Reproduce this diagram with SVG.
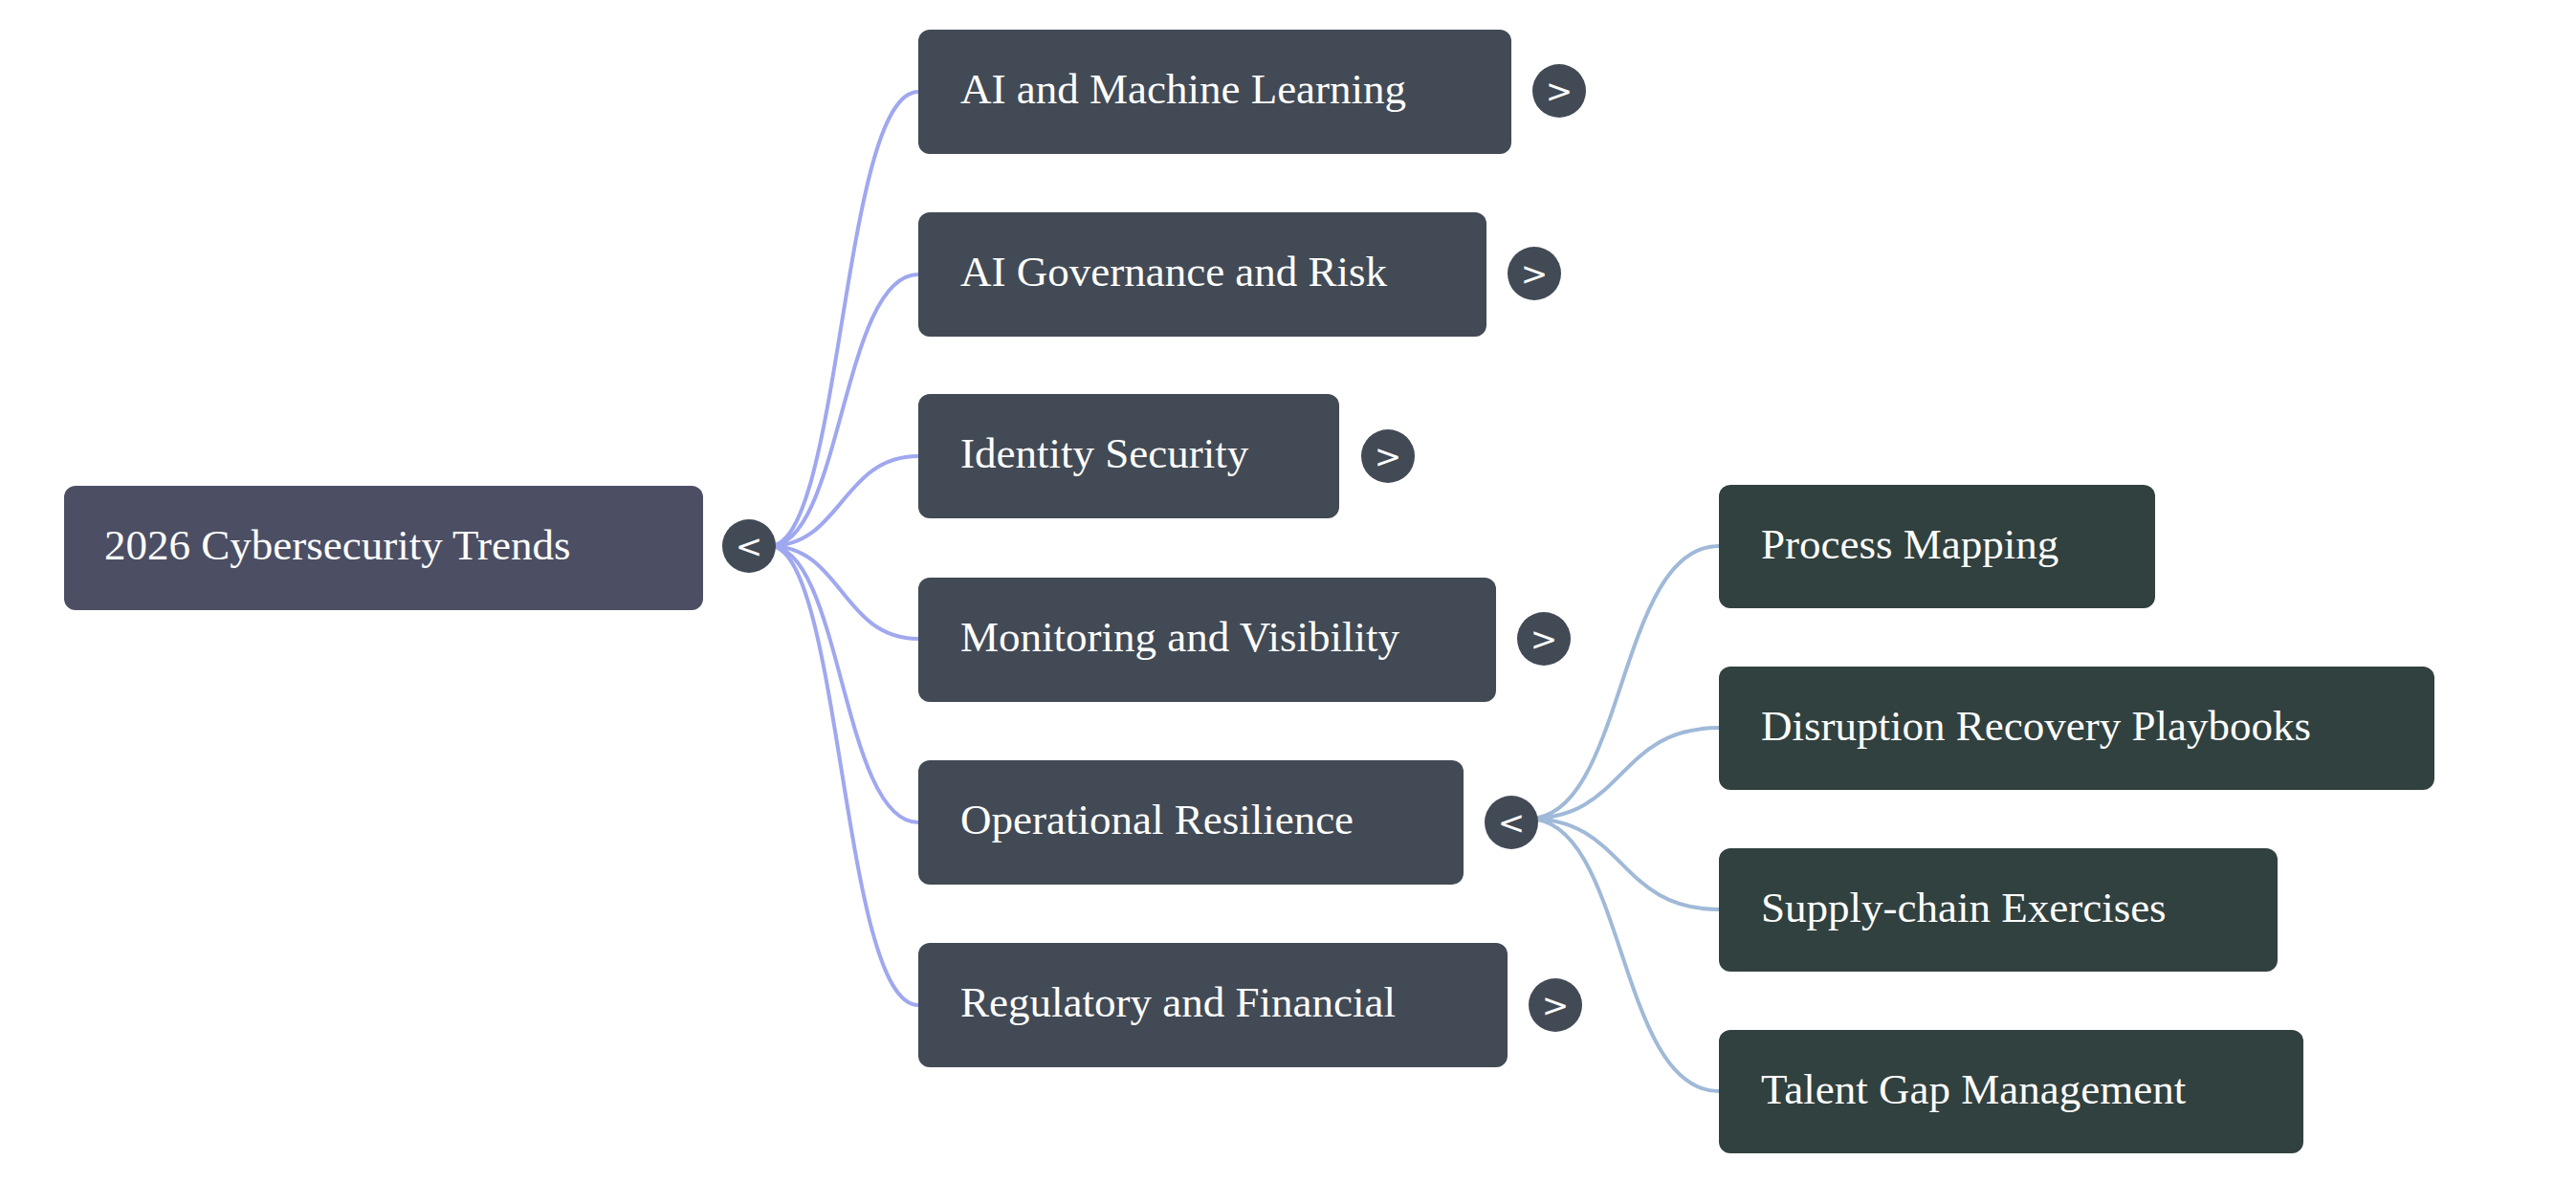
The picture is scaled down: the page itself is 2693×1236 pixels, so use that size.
<svg xmlns="http://www.w3.org/2000/svg" width="2693" height="1236" viewBox="0 0 2693 1236">
<style>
.t{font-family:"Liberation Serif","Times New Roman",serif;font-size:45px;fill:#ffffff}
.g{font-family:"DejaVu Sans",sans-serif;font-size:34px;fill:#ffffff;text-anchor:middle}
.root{fill:#4c4f64}
.c{fill:#424a55}
.gc{fill:#31413f}
.tg{fill:#424a55}
.l1{fill:none;stroke:#9fa8ef;stroke-width:4}
.l2{fill:none;stroke:#a0b9d8;stroke-width:4}
</style>
<rect width="2693" height="1236" fill="#ffffff"/>
<g id="connectors">
<path class="l1" d="M805 571 C880 571 880 96 960 96"/>
<path class="l1" d="M805 571 C880 571 880 287 960 287"/>
<path class="l1" d="M805 571 C880 571 880 477 960 477"/>
<path class="l1" d="M805 571 C880 571 880 668 960 668"/>
<path class="l1" d="M805 571 C880 571 880 860 960 860"/>
<path class="l1" d="M805 571 C880 571 880 1051 960 1051"/>
<path class="l2" d="M1598 856 C1700 856 1690 571 1797 571"/>
<path class="l2" d="M1598 856 C1700 856 1690 761 1797 761"/>
<path class="l2" d="M1598 856 C1700 856 1690 951 1797 951"/>
<path class="l2" d="M1598 856 C1700 856 1690 1141 1797 1141"/>
</g>
<g id="root"><rect class="root" x="67" y="508" width="668" height="130" rx="12"/><text class="t" x="109" y="585">2026 Cybersecurity Trends</text>
<circle class="tg" cx="783" cy="571" r="28"/><text class="g" x="783" y="583">&lt;</text></g>
<g id="n1"><rect class="c" x="960" y="31" width="620" height="130" rx="12"/><text class="t" x="1004" y="108">AI and Machine Learning</text>
<circle class="tg" cx="1630" cy="95" r="28"/><text class="g" x="1630" y="107">&gt;</text></g>
<g id="n2"><rect class="c" x="960" y="222" width="594" height="130" rx="12"/><text class="t" x="1004" y="299">AI Governance and Risk</text>
<circle class="tg" cx="1604" cy="286" r="28"/><text class="g" x="1604" y="298">&gt;</text></g>
<g id="n3"><rect class="c" x="960" y="412" width="440" height="130" rx="12"/><text class="t" x="1004" y="489">Identity Security</text>
<circle class="tg" cx="1451" cy="477" r="28"/><text class="g" x="1451" y="489">&gt;</text></g>
<g id="n4"><rect class="c" x="960" y="604" width="604" height="130" rx="12"/><text class="t" x="1004" y="681">Monitoring and Visibility</text>
<circle class="tg" cx="1614" cy="668" r="28"/><text class="g" x="1614" y="680">&gt;</text></g>
<g id="n5"><rect class="c" x="960" y="795" width="570" height="130" rx="12"/><text class="t" x="1004" y="872">Operational Resilience</text>
<circle class="tg" cx="1580" cy="860" r="28"/><text class="g" x="1580" y="872">&lt;</text></g>
<g id="n6"><rect class="c" x="960" y="986" width="616" height="130" rx="12"/><text class="t" x="1004" y="1063">Regulatory and Financial</text>
<circle class="tg" cx="1626" cy="1051" r="28"/><text class="g" x="1626" y="1063">&gt;</text></g>
<g id="g1"><rect class="gc" x="1797" y="507" width="456" height="129" rx="12"/><text class="t" x="1841" y="584">Process Mapping</text></g>
<g id="g2"><rect class="gc" x="1797" y="697" width="748" height="129" rx="12"/><text class="t" x="1841" y="774">Disruption Recovery Playbooks</text></g>
<g id="g3"><rect class="gc" x="1797" y="887" width="584" height="129" rx="12"/><text class="t" x="1841" y="964">Supply-chain Exercises</text></g>
<g id="g4"><rect class="gc" x="1797" y="1077" width="611" height="129" rx="12"/><text class="t" x="1841" y="1154">Talent Gap Management</text></g>
</svg>
